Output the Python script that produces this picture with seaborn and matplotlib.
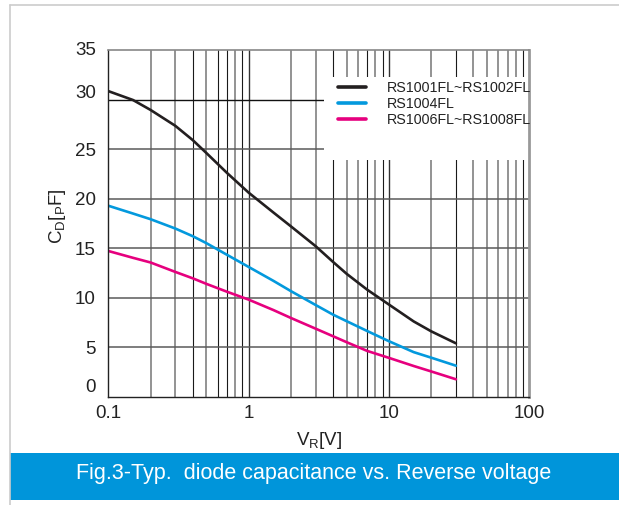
import numpy as np
import pandas as pd
import matplotlib
matplotlib.use("Agg")
import matplotlib.pyplot as plt
import matplotlib.transforms as mtransforms
from matplotlib.patches import Rectangle
from matplotlib.lines import Line2D
import seaborn as sns
from matplotlib import font_manager

# ---------------- data ----------------
vr = [0.1, 0.15, 0.2, 0.3, 0.4, 0.5, 0.7, 1, 1.5, 2, 3, 4, 5, 7, 10, 15, 20, 30]
cd_rs1001 = [30.85, 29.95, 28.95, 27.35, 25.9, 24.6, 22.6, 20.6, 18.6, 17.2, 15.2, 13.6, 12.4, 10.8, 9.3, 7.6, 6.6, 5.39]
cd_rs1004 = [19.28, 18.49, 17.92, 16.98, 16.2, 15.5, 14.33, 13.1, 11.7, 10.66, 9.26, 8.28, 7.62, 6.63, 5.6, 4.5, 3.94, 3.13]
cd_rs1006 = [14.71, 14.02, 13.55, 12.6, 11.95, 11.39, 10.6, 9.8, 8.75, 7.95, 6.87, 6.1, 5.5, 4.62, 3.92, 3.1, 2.55, 1.76]
series_names = ["RS1001FL~RS1002FL", "RS1004FL", "RS1006FL~RS1008FL"]
series_colors = ["#231f20", "#0399dd", "#e6007e"]

y_ticks = [0, 5, 10, 15, 20, 25, 30, 35]
x_ticks = [0.1, 1, 10, 100]
x_ticklabels = ["0.1", "1", "10", "100"]
title_text = "Fig.3-Typ.  diode capacitance vs. Reverse voltage"

df = pd.DataFrame({
    "VR": vr * 3,
    "CD": cd_rs1001 + cd_rs1004 + cd_rs1006,
    "series": [series_names[0]] * len(vr) + [series_names[1]] * len(vr) + [series_names[2]] * len(vr),
})

# ---------------- style ----------------
sns.set_style("white")
avail = {f.name for f in font_manager.fontManager.ttflist}
narrow = "Liberation Sans Narrow" if "Liberation Sans Narrow" in avail else "Liberation Sans"
plt.rcParams["font.family"] = ["Liberation Sans", "DejaVu Sans"]
plt.rcParams["mathtext.fontset"] = "custom"
plt.rcParams["mathtext.rm"] = "Liberation Sans"
plt.rcParams["mathtext.it"] = "Liberation Sans"

W, H = 619, 505
fig = plt.figure(figsize=(W / 100, H / 100), dpi=100)
fig.patch.set_facecolor("white")
L, R, B, T = 108.3, 529.3, 396.7, 50.0
ax = fig.add_axes([L / W, 1 - B / H, (R - L) / W, (B - T) / H])

sns.lineplot(data=df, x="VR", y="CD", hue="series", palette=dict(zip(series_names, series_colors)),
             hue_order=series_names, linewidth=1.9, ax=ax, zorder=4, legend=False)
for ln in ax.get_lines():
    ln.set_solid_joinstyle("round")
ax.set_xscale("log")
ax.set_xlim(0.1, 100)
ax.set_ylim(0, 35)

# grid lines
black_minor = {0.4, 0.6, 0.7, 0.9, 4, 7, 9, 30, 90}
for dec in [0.1, 1, 10]:
    for k in range(1, 10):
        v = dec * k
        if v <= 0.1 + 1e-9:
            continue
        if k == 1:
            ax.axvline(v, color="#333333", lw=1.0, zorder=1)
        elif any(abs(v - b) < 1e-9 for b in black_minor):
            ax.axvline(v, color="#1a1a1a", lw=0.8, zorder=1)
        else:
            ax.axvline(v, color="#808080", lw=1.2, zorder=1)
for yv in y_ticks[1:-1]:
    ax.axhline(yv, color="#111111" if yv == 30 else "#5a5a5a", lw=1.0 if yv == 30 else 1.1, zorder=1)

# white legend area
ax.add_patch(Rectangle(((324 - L) / (R - L), (B - 160) / (B - T)), (R - 324) / (R - L), (160 - 77) / (B - T),
                       transform=ax.transAxes, facecolor="white", edgecolor="none", zorder=2))

# spines
for s in ["left", "bottom"]:
    ax.spines[s].set_color("#222222")
    ax.spines[s].set_linewidth(1.0)
ax.spines["top"].set_color("#888888")
ax.spines["top"].set_linewidth(1.2)
ax.spines["right"].set_color("#999999")
ax.spines["right"].set_linewidth(2.0)
for s in ax.spines.values():
    s.set_zorder(5)

# ticks
ax.set_xticks(x_ticks)
ax.set_xticklabels(x_ticklabels)
ax.xaxis.set_minor_locator(matplotlib.ticker.LogLocator(base=10, subs=np.arange(2, 10)))
ax.xaxis.set_minor_formatter(matplotlib.ticker.NullFormatter())
ax.tick_params(axis="x", which="both", direction="out", length=5, width=0.8, color="#555555",
               labelsize=13.5, pad=1, labelcolor="#222222")
ax.set_yticks(y_ticks)
ax.tick_params(axis="y", length=0, labelsize=13.5, pad=9, labelcolor="#222222")
for lab, yv in zip(ax.get_yticklabels(), y_ticks):
    dy = 0
    if yv == 0:
        dy = 11
    elif yv == 30:
        dy = 8
    elif yv == 35:
        dy = 2
    lab.set_transform(lab.get_transform() + mtransforms.ScaledTranslation(0, dy / 100, fig.dpi_scale_trans))

ax.set_xlabel(r"V$_{\mathregular{R}}$[V]", fontsize=13.5, color="#222222", labelpad=6)
ax.set_ylabel(r"C$_{\mathregular{D}}$[$_{\mathregular{P}}$F]", fontsize=13.5, color="#222222", labelpad=10)
ax.yaxis.set_label_coords(-0.095, 0.52)

# legend
handles = [Line2D([0], [0], color=c, lw=2.6) for c in series_colors]
leg = fig.legend(handles, series_names, loc="upper left", bbox_to_anchor=(338 / W, 1 - 81 / H),
                 frameon=False, fontsize=10.3, labelspacing=0.15, handlelength=1.95, handletextpad=1.45,
                 borderpad=0, borderaxespad=0)
for t in leg.get_texts():
    t.set_color("#222222")

# outer border
fig.add_artist(Line2D([10 / W, 1], [1 - 5 / H, 1 - 5 / H], color="#cccccc", lw=1.2, transform=fig.transFigure))
fig.add_artist(Line2D([10 / W, 10 / W], [0, 1 - 5 / H], color="#cccccc", lw=1.2, transform=fig.transFigure))

# title banner
fig.add_artist(Rectangle((10 / W, 1 - 500 / H), 1 - 10 / W, (500 - 453) / H, transform=fig.transFigure,
                         facecolor="#0095da", edgecolor="none"))
fig.text(314 / W, 1 - 474 / H, title_text, color="white", fontsize=15.5, family=[narrow, "DejaVu Sans"],
         ha="center", va="center")

fig.savefig("out.png", dpi=100, facecolor="white")
